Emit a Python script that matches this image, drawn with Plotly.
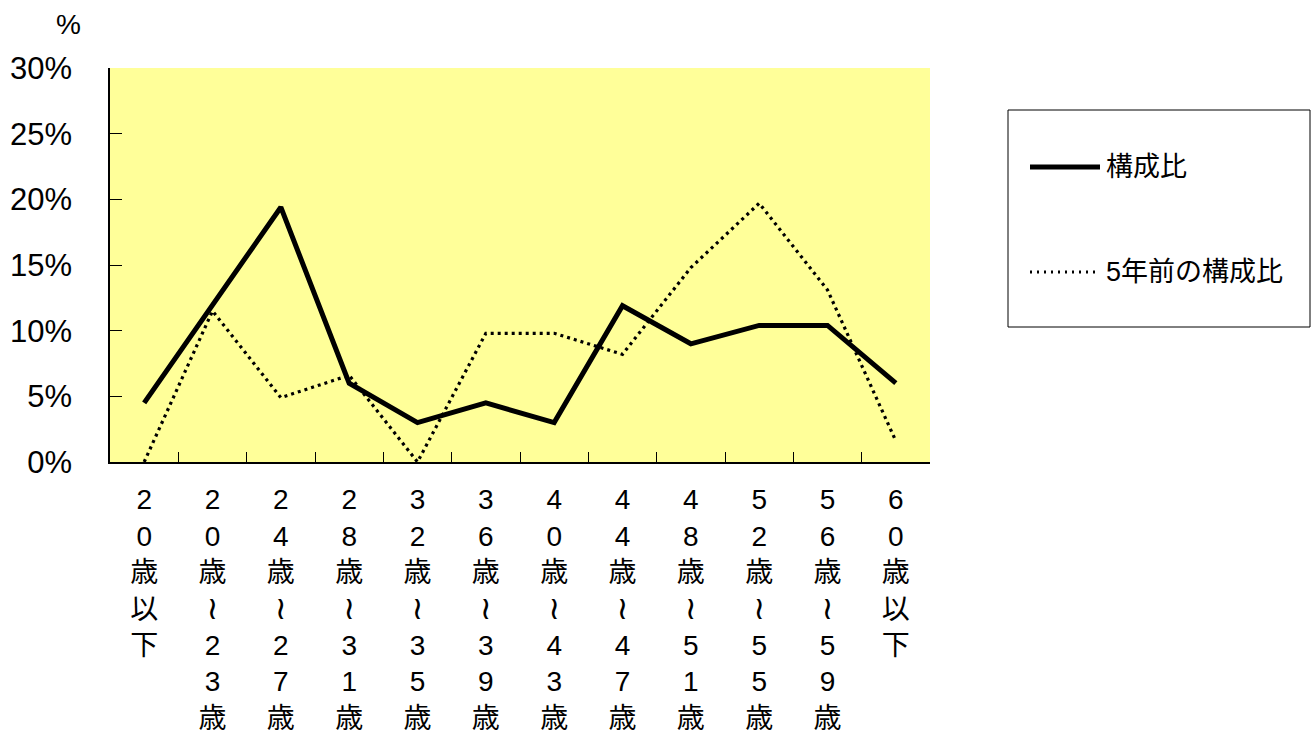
import plotly.graph_objects as go

categories = ["20歳以下", "20歳～23歳", "24歳～27歳", "28歳～31歳", "32歳～35歳", "36歳～39歳",
              "40歳～43歳", "44歳～47歳", "48歳～51歳", "52歳～55歳", "56歳～59歳", "60歳以下"]
current_share = [0.045, 0.119, 0.194, 0.060, 0.030, 0.045, 0.030, 0.119, 0.090, 0.104, 0.104, 0.060]
share_5y_ago = [0.0, 0.115, 0.049, 0.066, 0.0, 0.098, 0.098, 0.082, 0.148, 0.197, 0.131, 0.016]
series_names = ["構成比", "5年前の構成比"]
y_tick_vals = [0, 0.05, 0.10, 0.15, 0.20, 0.25, 0.30]

W, H = 1311, 733
L, R, T, B = 110, 930, 68, 462
FONT = "Liberation Sans, Arial, Noto Sans CJK JP, sans-serif"


def vertical(label):
    out = []
    for c in label:
        if c == "～":
            out.append('<span style="font-family:\'DejaVu Sans\';font-size:32px">≀</span>')
        else:
            out.append(c)
    return "<br>".join(out)


def px(x):
    return (x - L) / (R - L)


def py(y):
    return (B - y) / (B - T)


fig = go.Figure()
fig.add_trace(go.Scatter(x=categories, y=current_share, mode="lines", name=series_names[0],
                         line=dict(color="black", width=5), showlegend=False))
fig.add_trace(go.Scatter(x=categories, y=share_5y_ago, mode="lines", name=series_names[1],
                         line=dict(color="black", width=3.2, dash="3px,4px"), showlegend=False))

fig.update_layout(
    width=W, height=H,
    margin=dict(l=L, r=W - R, t=T, b=H - B, pad=0),
    paper_bgcolor="white", plot_bgcolor="#FFFF99",
    font=dict(family=FONT, color="black"),
    xaxis=dict(
        type="category", tickmode="array", tickvals=categories,
        ticktext=[vertical(c) for c in categories],
        tickson="boundaries", ticks="inside", ticklen=10, tickwidth=1, tickcolor="black",
        showline=True, linecolor="black", linewidth=1.5, showgrid=False, zeroline=False,
        tickfont=dict(size=28, family=FONT), tickangle=0, range=[-0.5, 11.5],
        ticklabelstandoff=12, automargin=False,
    ),
    yaxis=dict(
        range=[0, 0.30], tickmode="array", tickvals=y_tick_vals, tickformat=".0%",
        ticks="inside", ticklen=12, tickwidth=1, tickcolor="black",
        showline=True, linecolor="black", linewidth=1.5, showgrid=False, zeroline=False,
        tickfont=dict(size=31, family=FONT), ticklabelstandoff=30, automargin=False,
    ),
)

fig.add_annotation(text="%", xref="paper", yref="paper", x=px(68), y=py(25),
                   showarrow=False, font=dict(size=28, family=FONT), xanchor="center", yanchor="middle")

# legend box
fig.add_shape(type="rect", xref="paper", yref="paper", x0=px(1008), x1=px(1310), y0=py(327), y1=py(110),
              line=dict(color="black", width=1), fillcolor="white", layer="below")
fig.add_shape(type="line", xref="paper", yref="paper", x0=px(1030), x1=px(1100), y0=py(167), y1=py(167),
              line=dict(color="black", width=5))
fig.add_shape(type="line", xref="paper", yref="paper", x0=px(1030), x1=px(1100), y0=py(272), y1=py(272),
              line=dict(color="black", width=3, dash="2px,5px"))
fig.add_annotation(text=series_names[0], xref="paper", yref="paper", x=px(1104), y=py(167),
                   showarrow=False, xanchor="left", yanchor="middle", font=dict(size=27, family=FONT))
fig.add_annotation(text=series_names[1], xref="paper", yref="paper", x=px(1104), y=py(272),
                   showarrow=False, xanchor="left", yanchor="middle", font=dict(size=27, family=FONT))

fig.write_html("out.html")
